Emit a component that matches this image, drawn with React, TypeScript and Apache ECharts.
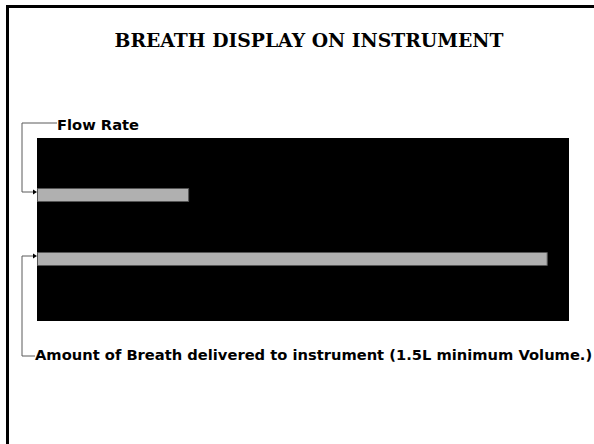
import React, { useEffect, useRef } from "react";
import * as echarts from "echarts";

const title = "BREATH DISPLAY ON INSTRUMENT";
const categories = ["Flow Rate", "Amount of Breath delivered to instrument (1.5L minimum Volume.)"];
const values = [28.6, 96.0];
const axisMax = 100;

export default function App() {
  const ref = useRef<HTMLDivElement>(null);
  useEffect(() => {
    const chart = echarts.init(ref.current!, null, { renderer: "svg" });
    const option: any = {
      animation: false,
      backgroundColor: "#ffffff",
      grid: [
        { left: 37, top: 138, width: 532, height: 183, show: true, backgroundColor: "#000000", borderWidth: 0 },
        { left: 37, top: 163, width: 532, height: 128, show: false },
      ],
      xAxis: [
        { gridIndex: 0, type: "value", min: 0, max: axisMax, show: false },
        { gridIndex: 1, type: "value", min: 0, max: axisMax, show: false },
      ],
      yAxis: [
        { gridIndex: 0, type: "value", min: 0, max: 1, show: false },
        { gridIndex: 1, type: "category", data: categories, inverse: true, show: false },
      ],
      series: [
        {
          type: "bar",
          xAxisIndex: 1,
          yAxisIndex: 1,
          data: values,
          barWidth: 14,
          itemStyle: { color: "#b0b0b0", borderColor: "#555555", borderWidth: 1 },
        },
      ],
    };
    chart.setOption(option);

    const lineColor = "#5a5a5a";
    const p0 = chart.convertToPixel({ gridIndex: 1 }, [0, 0]) as number[];
    const p1 = chart.convertToPixel({ gridIndex: 1 }, [0, 1]) as number[];
    const xL = p0[0];
    const a0 = p0[1] - 3;
    const a1 = p1[1] - 3;
    const vx = 22;
    const arrow = (y: number) => ({
      type: "polygon",
      shape: { points: [[xL, y], [xL - 4, y - 2.5], [xL - 4, y + 2.5]] },
      style: { fill: "#000" },
    });
    const labelStyle = (text: string) => ({
      text,
      fontFamily: "DejaVu Sans",
      fontWeight: "bold",
      fontSize: 14.7,
      fill: "#000",
      align: "left",
      verticalAlign: "middle",
    });

    chart.setOption({
      graphic: [
        {
          type: "rect",
          shape: { x: 7.5, y: 6.5, width: 800, height: 800 },
          style: { fill: "none", stroke: "#000", lineWidth: 3 },
        },
        {
          type: "text",
          x: 309,
          y: 39.5,
          style: {
            text: title,
            fontFamily: "DejaVu Serif",
            fontWeight: "bold",
            fontSize: 18.8,
            fill: "#000",
            align: "center",
            verticalAlign: "middle",
          },
        },
        {
          type: "polyline",
          shape: { points: [[57, 123], [vx, 123], [vx, a0], [xL - 3, a0]] },
          style: { stroke: lineColor, lineWidth: 1, fill: "none" },
        },
        arrow(a0),
        { type: "text", x: 57, y: 124.5, style: labelStyle(categories[0]) },
        {
          type: "polyline",
          shape: { points: [[xL - 3, a1], [vx, a1], [vx, 356], [35, 356]] },
          style: { stroke: lineColor, lineWidth: 1, fill: "none" },
        },
        arrow(a1),
        { type: "text", x: 35, y: 354.5, style: labelStyle(categories[1]) },
      ],
    });
    return () => chart.dispose();
  }, []);
  return (
    <div
      ref={ref}
      style={{ position: "fixed", left: 0, top: 0, width: 594, height: 444 }}
    />
  );
}
